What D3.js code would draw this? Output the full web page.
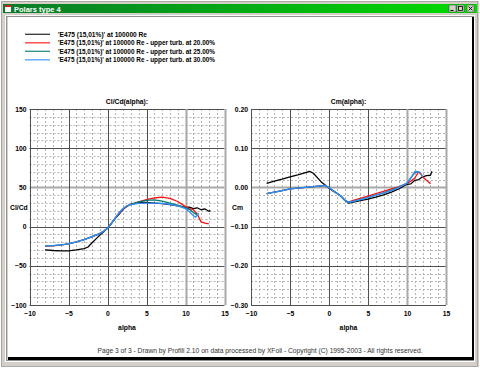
<!DOCTYPE html>
<html><head><meta charset="utf-8">
<script src="https://cdn.jsdelivr.net/npm/d3@7"></script>
<style>html,body{margin:0;padding:0;background:#d4d0c8;}svg{display:block;font-family:"Liberation Sans",Arial,sans-serif;}</style>
</head><body>
<svg id="c" width="480" height="368"></svg>
<script>
// ---------- data ----------
const seriesNames = [
  "'E475  (15,01%)' at 100000 Re",
  "'E475  (15,01%)' at 100000 Re - upper turb. at 20.00%",
  "'E475  (15,01%)' at 100000 Re - upper turb. at 25.00%",
  "'E475  (15,01%)' at 100000 Re - upper turb. at 30.00%"
];
const seriesColors = ["#000000", "#ff1010", "#007a6e", "#2f8fff"];

const alphaA = [-8,-7,-6,-5,-4,-3,-2.5,-2,-1.5,-1,-0.5,0,0.5,1,1.5,2,2.5,3,4,5,6,7,8,9,10,10.5,11,11.5,12,12.5,13,13.2];
const clcdA  = [-29.6,-30.5,-31,-31,-29.8,-28,-26,-21,-16,-11,-6.5,-2,4,10.5,16,22,26,28.5,30.5,31,30,29.2,28,26.5,24.5,24.8,22.8,24,21.5,22.5,19.5,20.5];
const cmA    = [0.010,0.016,0.021,0.027,0.032,0.038,0.041,0.036,0.025,0.014,0.006,-0.002,-0.009,-0.015,-0.022,-0.032,-0.040,-0.038,-0.034,-0.030,-0.025,-0.019,-0.012,-0.003,0.008,0.009,0.018,0.020,0.027,0.030,0.031,0.041];

const alphaB = [-8,-7,-6,-5,-4,-3,-2,-1,-0.5,0,0.5,1,1.5,2,2.5,3,4,5,6,7,8,9,10,10.5,11,11.5,12,12.5,13];
const clcdB  = [-25,-24.5,-23.5,-22,-19.5,-16.5,-13,-9,-6,-2,4,11,17,22.5,26,28.5,31.5,34.5,36.5,37.5,36,32,25.5,23,21.5,16,6,4.5,3.5];
const cmB    = [-0.016,-0.012,-0.008,-0.004,-0.002,0.000,0.002,0.004,0.005,-0.001,-0.008,-0.015,-0.022,-0.032,-0.038,-0.034,-0.028,-0.022,-0.016,-0.010,-0.004,0.002,0.010,0.016,0.024,0.040,0.028,0.018,0.009];

const alphaC = [-8,-7,-6,-5,-4,-3,-2,-1,-0.5,0,0.5,1,1.5,2,2.5,3,4,5,6,7,8,9,10,10.5,11,11.5];
const clcdC  = [-24.6,-24.2,-23.2,-22,-19.5,-16.5,-12.8,-9,-6,-2,4,11,17.5,23,26.5,28.5,31.5,33.5,34,32.5,30,27.5,24,22,18,15];
const cmC    = [-0.016,-0.012,-0.008,-0.004,-0.002,0.000,0.002,0.004,0.005,-0.001,-0.008,-0.015,-0.022,-0.032,-0.038,-0.036,-0.031,-0.026,-0.020,-0.014,-0.007,0.001,0.011,0.024,0.038,0.040];

const alphaD = [-8,-7,-6,-5,-4,-3,-2,-1,-0.5,0,0.5,1,1.5,2,2.5,3,4,5,6,7,8,9,10,10.5,11,11.3,11.7,12];
const clcdD  = [-24.6,-24.2,-23.2,-22,-19.5,-16.5,-12.8,-9,-6,-2,4,11,18,23,26.5,28,29.5,30,30,29.5,28.5,26.5,23,19,14,12,17,null];
const cmD    = [-0.016,-0.012,-0.008,-0.004,-0.002,0.000,0.002,0.004,0.005,-0.001,-0.008,-0.015,-0.022,-0.032,-0.038,-0.036,-0.031,-0.026,-0.020,-0.014,-0.008,0.000,0.011,0.025,0.040,0.041,0.038,0.027];

const xTicks = [-10,-5,0,5,10,15];
const clcdTicks = [-100,-50,0,50,100,150];
const cmTicks = [-0.30,-0.20,-0.10,0.00,0.10,0.20];
const footer = "Page 3 of 3  -  Drawn by Profili 2.10 on data processed by  XFoil - Copyright (C) 1995-2003 - All rights reserved.";

const svg = d3.select("#c");

// ---------- window frame ----------
svg.append("rect").attr("x",0).attr("y",0).attr("width",480).attr("height",368).attr("fill","#d4d0c8");
svg.append("rect").attr("x",0.5).attr("y",0.5).attr("width",479).attr("height",367).attr("fill","none").attr("stroke","#ffffff");
svg.append("rect").attr("x",1.5).attr("y",1.5).attr("width",476).attr("height",365).attr("fill","none").attr("stroke","#808080").attr("stroke-opacity",0.5);
const grad = svg.append("defs").append("linearGradient").attr("id","tb");
grad.append("stop").attr("offset","0%").attr("stop-color","#0a7a2a");
grad.append("stop").attr("offset","100%").attr("stop-color","#00dc00");
svg.append("rect").attr("x",3).attr("y",4).attr("width",474).attr("height",9).attr("fill","url(#tb)");
// icon
svg.append("rect").attr("x",5).attr("y",5).attr("width",6).attr("height",7).attr("fill","#ffffff");
svg.append("rect").attr("x",5).attr("y",5).attr("width",6).attr("height",2).attr("fill","#d02020");
svg.append("text").attr("x",14).attr("y",11.5).attr("fill","#ffffff").attr("font-size",7.5).attr("font-weight","bold").text("Polars type 4");
// buttons
[449,457,467].forEach((bx,i)=>{
  svg.append("rect").attr("x",bx).attr("y",5).attr("width",7).attr("height",7).attr("fill","#d4d0c8").attr("stroke","#404040").attr("stroke-width",0.5);
});
svg.append("line").attr("x1",450.5).attr("x2",453.5).attr("y1",10.5).attr("y2",10.5).attr("stroke","#000");
svg.append("rect").attr("x",458.5).attr("y",6.5).attr("width",4).attr("height",4).attr("fill","none").attr("stroke","#000").attr("stroke-width",0.8);
svg.append("path").attr("d","M468.5,6.5L472.5,10.5M472.5,6.5L468.5,10.5").attr("stroke","#000").attr("stroke-width",0.9);
// inner client area
svg.append("rect").attr("x",5.5).attr("y",15.5).attr("width",469).attr("height",346).attr("fill","none").attr("stroke","#ffffff");
svg.append("rect").attr("x",6.5).attr("y",16.5).attr("width",467).attr("height",344).attr("fill","none").attr("stroke","#909090");
svg.append("rect").attr("x",8).attr("y",17).attr("width",466).attr("height",343).attr("fill","#000");
svg.append("rect").attr("x",8).attr("y",17).attr("width",464).attr("height",340).attr("fill","#ffffff");

// ---------- legend ----------
seriesNames.forEach((n,i)=>{
  const y = 34.3 + i*8.5;
  svg.append("line").attr("x1",25).attr("x2",50).attr("y1",y).attr("y2",y).attr("stroke",seriesColors[i]).attr("stroke-width",1.3).attr("stroke-opacity",i==0?0.8:0.85);
  svg.append("text").attr("x",58).attr("y",y+2.4).attr("font-size",6.6).attr("font-weight","bold").attr("fill","#000")
    .attr("textLength", i==0 ? 89 : 157).attr("lengthAdjust","spacingAndGlyphs").text(n);
});

// ---------- chart helper ----------
function drawChart(cfg){
  const x = d3.scaleLinear().domain([-10,15]).range([cfg.x0, cfg.x1]);
  const y = d3.scaleLinear().domain(cfg.ydom).range([305,109]);
  const g = svg.append("g");
  // minor grid
  const xMinor = d3.range(-10,15.001,1).filter(v=>v%5!==0);
  const yMinor = d3.range(0,26).map(i=>cfg.ydom[0]+i*(cfg.ydom[1]-cfg.ydom[0])/25).filter((v,i)=>i%5!==0);
  g.selectAll(null).data(xMinor).enter().append("line")
    .attr("x1",d=>Math.round(x(d))+0.5).attr("x2",d=>Math.round(x(d))+0.5).attr("y1",109).attr("y2",305)
    .attr("stroke","#b4b4b4").attr("stroke-dasharray","2,2").attr("stroke-width",1);
  g.selectAll(null).data(yMinor).enter().append("line")
    .attr("y1",d=>Math.round(y(d))+0.5).attr("y2",d=>Math.round(y(d))+0.5).attr("x1",cfg.x0).attr("x2",cfg.x1)
    .attr("stroke","#b4b4b4").attr("stroke-dasharray","2,2").attr("stroke-width",1);
  // major grid
  g.selectAll(null).data(cfg.yticks).enter().append("line")
    .attr("y1",d=>Math.round(y(d))+0.5).attr("y2",d=>Math.round(y(d))+0.5).attr("x1",cfg.x0).attr("x2",cfg.x1)
    .attr("stroke",d=>Math.abs(d-cfg.yHi)<1e-9?"#a8a8a8":"#505050").attr("stroke-width",d=>Math.abs(d-cfg.yHi)<1e-9?2:1);
  g.selectAll(null).data(xTicks).enter().append("line")
    .attr("x1",d=>Math.round(x(d))+0.5).attr("x2",d=>Math.round(x(d))+0.5).attr("y1",109).attr("y2",305)
    .attr("stroke",d=>(d==10||d==15)?"#a8a8a8":"#505050").attr("stroke-width",d=>(d==10||d==15)?2:1);
  // axes labels via d3 axes
  const ax = g.append("g").attr("transform","translate(0,307)")
    .call(d3.axisBottom(x).tickValues(xTicks).tickSize(0).tickPadding(4).tickFormat(d3.format("d")));
  ax.select(".domain").remove();
  ax.selectAll("text").attr("font-size",6.8).attr("font-weight","bold").attr("fill","#000").attr("font-family","Liberation Sans, Arial, sans-serif");
  const ay = g.append("g").attr("transform",`translate(${cfg.x0-3},0)`)
    .call(d3.axisLeft(y).tickValues(cfg.yticks).tickSize(0).tickPadding(0).tickFormat(cfg.fmt));
  ay.select(".domain").remove();
  ay.selectAll("text").attr("font-size",6.8).attr("font-weight","bold").attr("fill","#000").attr("font-family","Liberation Sans, Arial, sans-serif");
  // titles
  g.append("text").attr("x",(cfg.x0+cfg.x1)/2).attr("y",104).attr("text-anchor","middle").attr("font-size",6.8).attr("font-weight","bold").text(cfg.title);
  g.append("text").attr("x",(cfg.x0+cfg.x1)/2).attr("y",329.5).attr("text-anchor","middle").attr("font-size",6.8).attr("font-weight","bold").text("alpha");
  g.append("text").attr("x",cfg.ylabX).attr("y",210).attr("font-size",6.8).attr("font-weight","bold").text(cfg.ylab);
  // lines
  const line = d3.line().defined(d=>d[1]!=null).x(d=>x(d[0])).y(d=>y(d[1]));
  cfg.series.forEach((s,i)=>{
    const pts = s.a.map((a,j)=>[a,s.v[j]]);
    g.append("path").attr("d",line(pts)).attr("fill","none").attr("stroke",seriesColors[i]).attr("stroke-width",1.3).attr("stroke-linejoin","round");
  });
}

drawChart({x0:29.5, x1:224.5, ydom:[-100,150], yticks:clcdTicks, yHi:50, fmt:d3.format("d"),
  title:"Cl/Cd(alpha):", ylab:"Cl/Cd", ylabX:10,
  series:[{a:alphaA,v:clcdA},{a:alphaB,v:clcdB},{a:alphaC,v:clcdC},{a:alphaD,v:clcdD}]});
drawChart({x0:251, x1:446, ydom:[-0.3,0.2], yticks:cmTicks, yHi:0, fmt:d3.format(".2f"),
  title:"Cm(alpha):", ylab:"Cm", ylabX:232,
  series:[{a:alphaA,v:cmA},{a:alphaB,v:cmB},{a:alphaC,v:cmC},{a:alphaD,v:cmD}]});

// footer
svg.append("text").attr("x",260).attr("y",352.5).attr("text-anchor","middle").attr("font-size",6.6).attr("fill","#333")
  .attr("textLength",325).attr("lengthAdjust","spacingAndGlyphs").text(footer);
</script>
</body></html>
